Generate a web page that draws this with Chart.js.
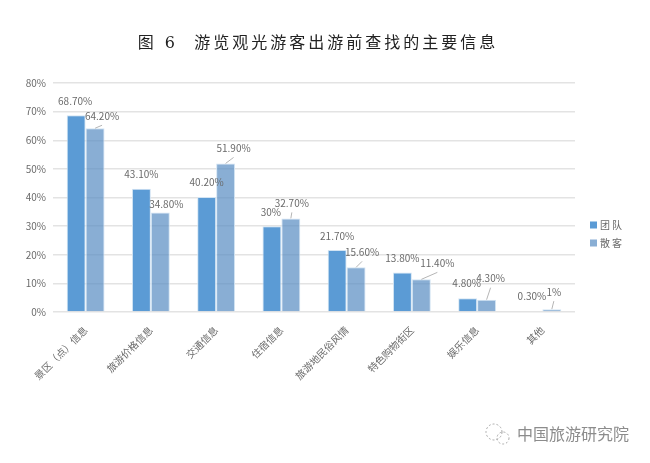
<!DOCTYPE html>
<html lang="zh">
<head>
<meta charset="utf-8">
<title>图6 游览观光游客出游前查找的主要信息</title>
<script src="https://cdn.jsdelivr.net/npm/chart.js@4"></script>
<style>
  html, body { margin: 0; padding: 0; background: #fff; }
  canvas { display: block; }
</style>
</head>
<body>
<canvas id="chart" width="650" height="463"></canvas>
<script>
const categories = ["景区（点）信息", "旅游价格信息", "交通信息", "住宿信息", "旅游地民俗风情", "特色购物街区", "娱乐信息", "其他"];
const groupValues = [68.7, 43.1, 40.2, 30, 21.7, 13.8, 4.8, 0.3];
const independentValues = [64.2, 34.8, 51.9, 32.7, 15.6, 11.4, 4.3, 1];
const seriesNames = ["团队", "散客"];
const titleText = "图 6  游览观光游客出游前查找的主要信息";
const watermarkText = "中国旅游研究院";

// hand placed label offsets from the top of each bar, like the moved labels in the original
const groupLabelOffsets = [[-1, -14], [0, -14], [0, -15], [-1, -14], [0, -14], [0, -14.5], [-1, -15], [-1, -15]];
const independentLabelOffsets = [[7, -12], [6, -8], [8, -15], [1, -15], [6, -15], [16, -16], [4, -21], [2, -17]];

const FONT = '"Noto Sans CJK SC", "Noto Sans", sans-serif';
const TEXT_COLOR = "#6a6a6a";

function formatPercent(val) {
  return Number.isInteger(val) ? val + "%" : val.toFixed(2) + "%";
}

// value labels and their leader lines
const valueLabels = {
  id: "valueLabels",
  afterDatasetsDraw(chart) {
    const ctx = chart.ctx;
    const offsets = [groupLabelOffsets, independentLabelOffsets];
    ctx.save();
    ctx.font = "10px " + FONT;
    ctx.fillStyle = TEXT_COLOR;
    ctx.textAlign = "center";
    ctx.textBaseline = "middle";
    chart.data.datasets.forEach((ds, d) => {
      chart.getDatasetMeta(d).data.forEach((bar, i) => {
        const [dx, dy] = offsets[d][i];
        if (d === 1 && dy + 9 < -2) {
          ctx.strokeStyle = "#b5b5b5";
          ctx.lineWidth = 1;
          ctx.beginPath();
          ctx.moveTo(bar.x, bar.y);
          ctx.lineTo(bar.x + dx, bar.y + dy + 9);
          ctx.stroke();
        }
        ctx.fillText(formatPercent(ds.data[i]), bar.x + dx, bar.y + dy);
      });
    });
    ctx.restore();
  },
};

// title, legend and watermark sit outside the plot
const decorations = {
  id: "decorations",
  afterDraw(chart) {
    const ctx = chart.ctx;
    ctx.save();

    ctx.fillStyle = "#222";
    ctx.font = '16px "DejaVu Serif", ' + FONT;
    ctx.letterSpacing = "3px";
    ctx.textAlign = "center";
    ctx.textBaseline = "middle";
    ctx.fillText(titleText, 318, 44);
    ctx.letterSpacing = "0px";

    ctx.textAlign = "left";
    ctx.font = "10px " + FONT;
    ctx.letterSpacing = "2px";
    seriesNames.forEach((name, i) => {
      const y = 225 + i * 18;
      ctx.fillStyle = chart.data.datasets[i].backgroundColor;
      ctx.fillRect(590, y - 3.5, 7, 7);
      ctx.fillStyle = TEXT_COLOR;
      ctx.fillText(name, 600, y);
    });
    ctx.letterSpacing = "0px";

    ctx.fillStyle = "#8c8c8c";
    ctx.font = "16px " + FONT;
    ctx.fillText(watermarkText, 517, 434);

    // wechat style mark
    ctx.strokeStyle = "#a8a8a8";
    ctx.lineWidth = 1;
    ctx.setLineDash([2, 2]);
    ctx.beginPath();
    ctx.arc(494, 432, 8, 0, Math.PI * 2);
    ctx.stroke();
    ctx.beginPath();
    ctx.arc(503, 438, 6, 0, Math.PI * 2);
    ctx.stroke();
    ctx.restore();
  },
};

new Chart(document.getElementById("chart"), {
  type: "bar",
  data: {
    labels: categories,
    datasets: [
      {
        label: seriesNames[0],
        data: groupValues,
        backgroundColor: "#5b9bd5",
        borderColor: "#d3e4f3",
        borderWidth: 1,
        categoryPercentage: 0.58,
        barPercentage: 1,
      },
      {
        label: seriesNames[1],
        data: independentValues,
        backgroundColor: "rgba(91,143,196,0.72)",
        borderColor: "#d3e4f3",
        borderWidth: 1,
        categoryPercentage: 0.58,
        barPercentage: 1,
      },
    ],
  },
  plugins: [valueLabels, decorations],
  options: {
    responsive: false,
    animation: false,
    layout: { padding: { top: 83, right: 75 } },
    plugins: {
      legend: { display: false },
      title: { display: false },
      tooltip: { enabled: false },
    },
    scales: {
      x: {
        afterFit: (axis) => { axis.height = 151; },
        grid: { display: false },
        border: { display: false },
        ticks: {
          color: TEXT_COLOR,
          font: { family: FONT, size: 10 },
          minRotation: 45,
          maxRotation: 45,
          autoSkip: false,
          padding: 4,
        },
      },
      y: {
        min: 0,
        max: 80,
        afterFit: (axis) => { axis.width = 53; },
        grid: { color: "#e3e3e3", lineWidth: 1.5, drawTicks: false },
        border: { display: false },
        ticks: {
          stepSize: 10,
          color: TEXT_COLOR,
          font: { family: FONT, size: 10 },
          padding: 7,
          callback: (v) => v + "%",
        },
      },
    },
  },
});
</script>
</body>
</html>
